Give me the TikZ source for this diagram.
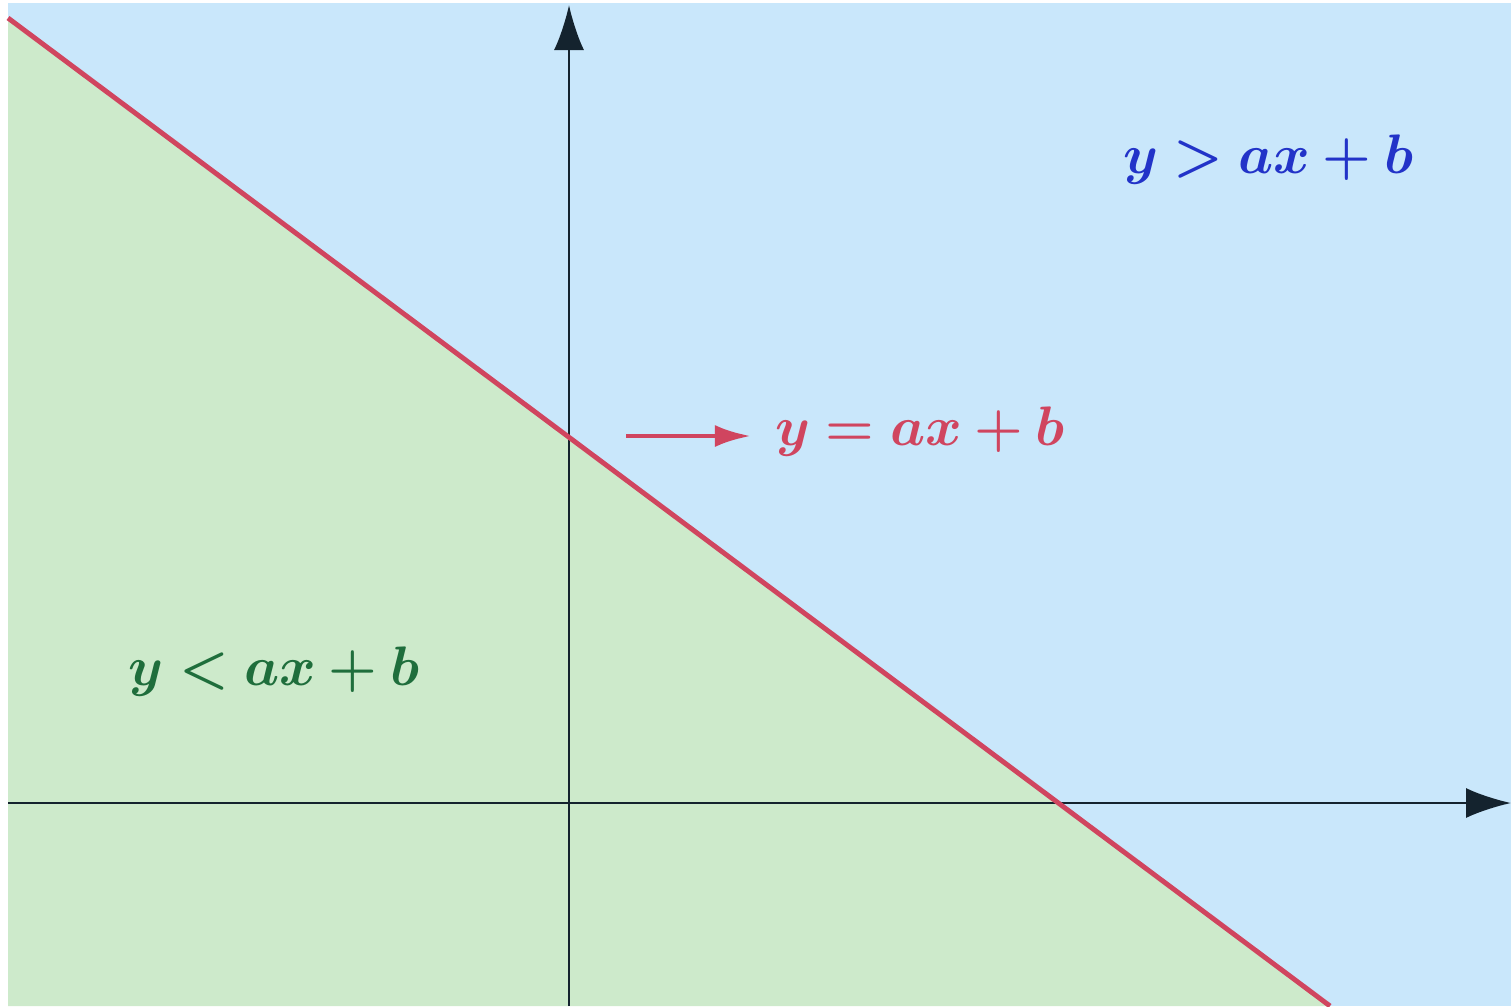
\documentclass[tikz,border=0pt]{standalone}
\usepackage{amsmath}
\usepackage{amssymb}
\usepackage{bm}
\usetikzlibrary{arrows.meta,positioning}

\definecolor{skyblue}{HTML}{C9E7FB}
\definecolor{mintgreen}{HTML}{CDEACB}
\definecolor{linered}{HTML}{D0455F}
\definecolor{textblue}{HTML}{2233C8}
\definecolor{textgreen}{HTML}{1F6E3C}
\definecolor{axisdark}{HTML}{14232E}

\tikzset{
	axis/.style={draw=axisdark, line width=0.7pt, -{Latex[length=4.5mm,width=3mm]}},
	label/.style={font=\fontsize{14.4}{17}\selectfont, scale=1.1}
}

\begin{document}
\begin{tikzpicture}
	\useasboundingbox (0,0) rectangle (15.11,10.06);
	\fill[white] (0,0) rectangle (15.11,10.06);
	\fill[skyblue] (0.08,0) rectangle (15.11,10.03);
	
	\coordinate (o) at (5.69,2.03);
	\coordinate (xl) at (0.08,2.03);
	\coordinate (xr) at (15.11,2.03);
	\coordinate (yb) at (5.69,0);
	\coordinate (yt) at (5.69,10.01);
	\coordinate (p) at (0.08,9.88);
	\coordinate (q) at (13.30,0);
	
	% region below the line
	\fill[mintgreen] (p) -- (q) -- (0.08,0) -- cycle;
	
	\draw[axis] (xl) -- (xr);
	\draw[axis] (yb) -- (yt);
	\draw[linered, line width=1.4pt] (p) -- (q);
	
	\node[label, text=textblue] (above) at (12.68,8.46) {$\bm{y > ax + b}$};
	\node[label, text=textgreen] (below) at (2.74,3.34) {$\bm{y < ax + b}$};
	\node[label, text=linered] (eq) at (9.20,5.74) {$\bm{y = ax + b}$};
	\coordinate (s) at (6.26,5.70);
	\draw[linered, line width=1.4pt, -{Latex[length=3.6mm,width=2.2mm]}] (s) -- ([xshift=-0.11cm]eq.west |- s);
\end{tikzpicture}
\end{document}
